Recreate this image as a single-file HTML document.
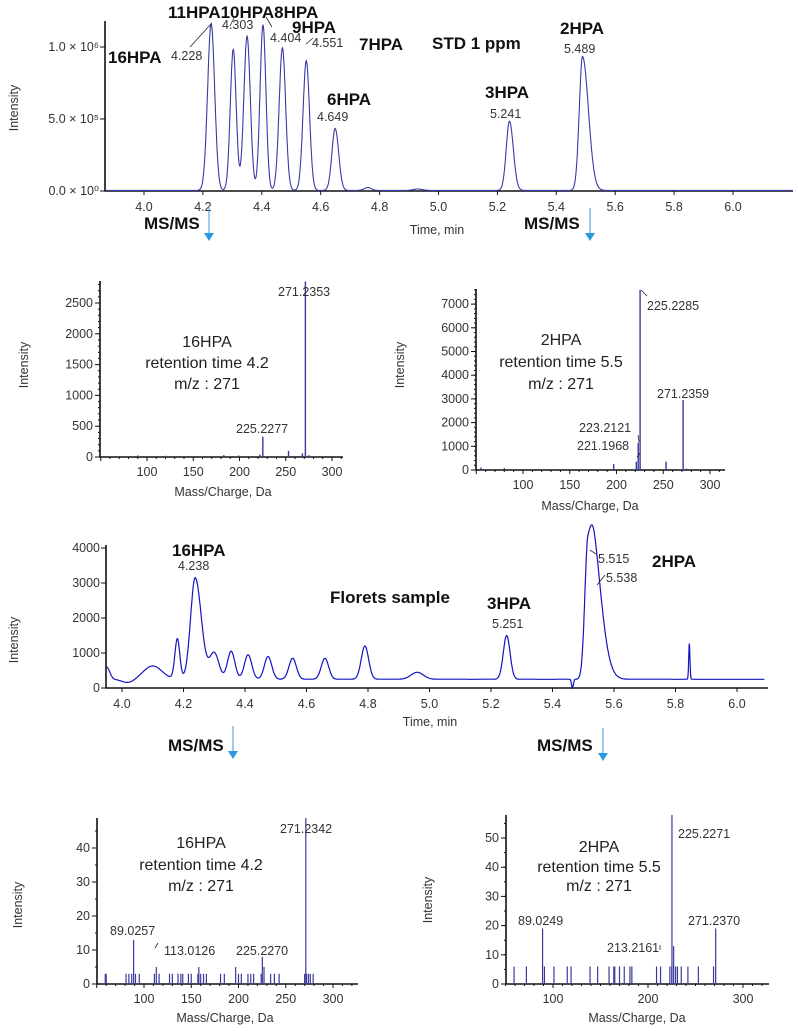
<!DOCTYPE html>
<html><head><meta charset="utf-8">
<style>
body{margin:0;background:#fff;}
svg{display:block;font-family:"Liberation Sans",sans-serif;}
.tk{font-size:12.5px;fill:#333;}
.bl{font-size:17px;font-weight:bold;fill:#111;}
.nm{font-size:12.5px;fill:#333;}
.cal{font-size:16px;fill:#222;}
.ax{stroke:#111;stroke-width:1.6;fill:none;}
</style></head><body>
<svg id="s" width="798" height="1031" viewBox="0 0 798 1031"></svg>
<script>
// ---- Chromatogram 1: STD 1 ppm ----
const stdTimes   = [4.228, 4.303, 4.350, 4.404, 4.470, 4.551, 4.649, 4.760, 4.930, 5.241, 5.489];
const stdHeights = [1.16e6, 0.98e6, 1.07e6, 1.15e6, 0.99e6, 0.90e6, 0.43e6, 0.02e6, 0.01e6, 0.48e6, 0.93e6];
const stdWidths  = [0.012, 0.010, 0.011, 0.010, 0.011, 0.011, 0.011, 0.012, 0.015, 0.011, 0.011];
const stdTails   = [0.012, 0.010, 0.011, 0.010, 0.011, 0.011, 0.012, 0.012, 0.015, 0.013, 0.020];
const stdYTicks  = ["0.0 × 10⁰", "5.0 × 10⁵", "1.0 × 10⁶"];
const stdYVals   = [0, 5e5, 1e6];
const timeTicks  = [4.0, 4.2, 4.4, 4.6, 4.8, 5.0, 5.2, 5.4, 5.6, 5.8, 6.0];
// ---- Chromatogram 2: Florets sample ----
const flBase     = 250;
const flTimes    = [3.95, 4.02, 4.10, 4.18, 4.238, 4.30, 4.355, 4.41, 4.475, 4.555, 4.66, 4.79, 4.96, 5.251, 5.465, 5.515, 5.538, 5.845];
const flHeights  = [350, -100, 380, 1150, 2900, 750, 800, 700, 650, 600, 600, 950, 200, 1250, -250, 3700, 1300, 1050];
const flWidths   = [0.01, 0.02, 0.03, 0.008, 0.015, 0.015, 0.012, 0.012, 0.012, 0.012, 0.012, 0.012, 0.02, 0.011, 0.003, 0.010, 0.015, 0.002];
const flTails    = [0.01, 0.02, 0.03, 0.008, 0.020, 0.015, 0.012, 0.012, 0.012, 0.012, 0.012, 0.012, 0.02, 0.011, 0.003, 0.030, 0.030, 0.002];
const flYVals    = [0, 1000, 2000, 3000, 4000];
// ---- Spectra ----
const sp1Mz  = [70, 90, 120, 155, 183, 199, 222, 225.2277, 253, 268, 271.2353, 275];
const sp1Int = [15, 25, 20, 15, 30, 25, 40, 330, 100, 60, 2850, 30];
const sp2Mz  = [55, 80, 197, 221.1968, 223.2121, 225.2285, 253, 271.2359, 275];
const sp2Int = [100, 80, 250, 350, 1150, 7600, 350, 2950, 60];
const sp3Mz  = [59,60,81,84,87,89.0257,91,95,111,113.0126,116,127,130,136,139,141,147,150,157,158,160,163,166,181,185,197,200,203,210,213,216,224,225.227,227,234,238,243,270,271.2342,272,274,276,279];
const sp3Int = [3,3,3,3,3,13,3,3,3,5,3,3,3,3,3,3,3,3,3,5,3,3,3,3,3,5,3,3,3,3,3,3,8,5,3,3,3,3,49,3,3,3,3];
const sp4Mz  = [59,72,89.0249,91,101,115,119,139,147,159,164,165,170,175,181,183,209,213.2161,223,225,225.2271,227,229,231,235,242,253,269,271.237];
const sp4Int = [6,6,19,6,6,6,6,6,6,6,6,6,6,6,6,6,6,6,6,6,58,13,6,6,6,6,6,6,19];

const NS="http://www.w3.org/2000/svg";
const S=document.getElementById('s');
function mk(tag,at,txt){const e=document.createElementNS(NS,tag);for(const k in at)e.setAttribute(k,at[k]);if(txt!==undefined)e.textContent=txt;S.appendChild(e);return e;}
function txt(x,y,s,cls,anchor,name){const e=mk('text',{x:x,y:y,class:cls,'text-anchor':anchor||'start'},s);

return e;}
function peakSum(t,times,hs,wl,wr){let v=0;for(let i=0;i<times.length;i++){const d=t-times[i];const w=d<0?wl[i]:wr[i];v+=hs[i]*Math.exp(-d*d/(2*w*w));}return v;}

function chrom(o){
  const X=t=>o.x0+(t-o.t0)*o.pxPerMin, Y=v=>o.yb-v*o.pxPerUnit;
  const ax=mk('path',{d:`M${o.axL},${o.yTop} V${o.yb} H${o.axR}`,class:'ax'});
  
  
  o.yVals.forEach((v,i)=>{mk('line',{x1:o.axL-5,x2:o.axL,y1:Y(v),y2:Y(v),stroke:'#111'});
    txt(o.axL-6,Y(v)+4,o.yLabels[i],'tk','end',o.name+'-y-tick-label');});
  timeTicks.forEach(t=>{if(X(t)>o.axR)return;mk('line',{x1:X(t),x2:X(t),y1:o.yb,y2:o.yb+4,stroke:'#111'});
    txt(X(t),o.yb+20,t.toFixed(1),'tk','middle',o.name+'-x-tick-label');});
  let d='';const step=0.0015;
  for(let t=o.tStart;t<=o.tEnd;t+=step){const v=o.base+peakSum(t,o.times,o.hs,o.wl,o.wr);d+=(d?'L':'M')+X(t).toFixed(1)+','+Y(v).toFixed(1);}
  const p=mk('path',{d:d,fill:'none',stroke:o.color,'stroke-width':o.sw});
  
  
  const yl=mk('text',{x:0,y:0,class:'tk',transform:`translate(${o.ylx},${o.yly}) rotate(-90)`,'text-anchor':'middle'},'Intensity');
  
  
  txt(o.xlx,o.xly,'Time, min','tk','middle',o.name+'-x-axis-title');
  return {X,Y};
}

function spectrum(o){
  const X=m=>o.x100+(m-100)*o.pxPerDa, Y=v=>o.yb-v*o.pxPerUnit;
  const ax=mk('path',{d:`M${o.axL},${o.yTop} V${o.yb} H${o.axR}`,class:'ax'});
  
  
  o.yVals.forEach(v=>{mk('line',{x1:o.axL-5,x2:o.axL,y1:Y(v),y2:Y(v),stroke:'#111'});
    txt(o.axL-7,Y(v)+4,String(v),'tk','end',o.name+'-y-tick-label');});
  for(let v=0;Y(v)>o.yTop;v+=o.yMinor)mk('line',{x1:o.axL-2,x2:o.axL,y1:Y(v),y2:Y(v),stroke:'#111'});
  for(let m=Math.ceil(o.mStart/10)*10;X(m)<=o.axR;m+=10){const major=m%o.xMajor===0;
    mk('line',{x1:X(m),x2:X(m),y1:o.yb,y2:o.yb+(major?4:2),stroke:'#111'});
    if(major&&m>=100)txt(X(m),o.yb+19,String(m),'tk','middle',o.name+'-x-tick-label');}
  o.mz.forEach((m,i)=>{const l=mk('line',{x1:X(m),x2:X(m),y1:o.yb,y2:Math.max(Y(o.int[i]),o.yTop),stroke:'#3a3a9a','stroke-width':o.bw});
    
    });
  const yl=mk('text',{x:0,y:0,class:'tk',transform:`translate(${o.ylx},${o.yly}) rotate(-90)`,'text-anchor':'middle'},'Intensity');
  
  
  txt(o.xlx,o.xly,'Mass/Charge, Da','tk','middle',o.name+'-x-axis-title');
  o.lines.forEach(L=>txt(o.cx,L[1],L[0],'cal','middle',o.name+'-annotation'));
}

chrom({name:'std-chrom',x0:144,t0:4.0,pxPerMin:294.5,yb:191,pxPerUnit:144/1e6,axL:105,axR:793,yTop:21,
 yVals:stdYVals,yLabels:stdYTicks,tStart:3.87,tEnd:6.2,base:4000,times:stdTimes,hs:stdHeights,wl:stdWidths,wr:stdTails,
 color:'#3a3aa8',sw:1.1,ylx:18,yly:108,xlx:437,xly:234});
chrom({name:'florets-chrom',x0:122,t0:4.0,pxPerMin:307.5,yb:688,pxPerUnit:35/1000,axL:106,axR:768,yTop:545,
 yVals:flYVals,yLabels:flYVals.map(String),tStart:3.95,tEnd:6.09,base:flBase,times:flTimes,hs:flHeights,wl:flWidths,wr:flTails,
 color:'#1414c0',sw:1.2,ylx:18,yly:640,xlx:430,xly:726});

spectrum({name:'ms-16hpa-std',x100:147,pxPerDa:0.925,yb:457,pxPerUnit:30.8/500,axL:100,axR:343,yTop:281,mStart:50,
 yVals:[0,500,1000,1500,2000,2500],yMinor:100,xMajor:50,mz:sp1Mz,int:sp1Int,bw:1.4,ylx:28,yly:365,xlx:223,xly:496,cx:207,
 lines:[['16HPA',347],['retention time 4.2',368],['m/z : 271',389]]});
spectrum({name:'ms-2hpa-std',x100:523,pxPerDa:0.935,yb:470,pxPerUnit:23.7/1000,axL:476,axR:725,yTop:289,mStart:50,
 yVals:[0,1000,2000,3000,4000,5000,6000,7000],yMinor:200,xMajor:50,mz:sp2Mz,int:sp2Int,bw:1.4,ylx:404,yly:365,xlx:590,xly:510,cx:561,
 lines:[['2HPA',345],['retention time 5.5',367],['m/z : 271',389]]});
spectrum({name:'ms-16hpa-florets',x100:144,pxPerDa:0.945,yb:984,pxPerUnit:3.4,axL:97,axR:358,yTop:818,mStart:50,
 yVals:[0,10,20,30,40],yMinor:5,xMajor:50,mz:sp3Mz,int:sp3Int,bw:1.2,ylx:22,yly:905,xlx:225,xly:1022,cx:201,
 lines:[['16HPA',848],['retention time 4.2',870],['m/z : 271',891]]});
spectrum({name:'ms-2hpa-florets',x100:553,pxPerDa:0.95,yb:984,pxPerUnit:2.92,axL:506,axR:769,yTop:815,mStart:50,
 yVals:[0,10,20,30,40,50],yMinor:5,xMajor:100,mz:sp4Mz,int:sp4Int,bw:1.2,ylx:432,yly:900,xlx:637,xly:1022,cx:599,
 lines:[['2HPA',852],['retention time 5.5',872],['m/z : 271',891]]});

const B=[['11HPA10HPA8HPA',168,18],['9HPA',292,33],['16HPA',108,63],['7HPA',359,50],['6HPA',327,105],['STD 1 ppm',432,49],
['3HPA',485,98],['2HPA',560,34],['16HPA',172,556],['Florets sample',330,603],['3HPA',487,609],['2HPA',652,567]];
B.forEach(b=>txt(b[1],b[2],b[0],'bl','start','peak-name-label'));
const N=[['4.228',171,60],['4.303',222,29],['4.404',270,42],['4.551',312,47],['4.649',317,121],['5.241',490,118],['5.489',564,53],
['4.238',178,570],['5.251',492,628],['5.515',598,563],['5.538',606,582],
['271.2353',278,296],['225.2277',236,433],['225.2285',647,310],['271.2359',657,398],['223.2121',579,432],['221.1968',577,450],
['271.2342',280,833],['89.0257',110,935],['113.0126',164,955],['225.2270',236,955],
['225.2271',678,838],['89.0249',518,925],['213.2161',607,952],['271.2370',688,925]];
N.forEach(n=>txt(n[1],n[2],n[0],'nm','start','peak-value-label'));
[[190,47,211,24],[234,18,230,26],[266,17,272,27],[313,38,306,44],[596,554,590,550],[605,575,597,585],[647,296,641,290],[639,442,638,435],[637,457,640,453],[158,943,155,948],[660,945,660,950]].forEach(l=>{
const e=mk('line',{x1:l[0],y1:l[1],x2:l[2],y2:l[3],stroke:'#222','stroke-width':0.8});

});
[[144,229,209,208],[524,229,590,208],[168,751,233,726],[537,751,603,728]].forEach(a=>{
txt(a[0],a[1],'MS/MS','bl','start','ms-ms-label');
const l=mk('line',{x1:a[2],y1:a[3],x2:a[2],y2:a[3]+26,stroke:'#3a9ad8','stroke-width':1});


const h=mk('path',{d:`M${a[2]-5},${a[3]+25} L${a[2]+5},${a[3]+25} L${a[2]},${a[3]+33}Z`,fill:'#2a9ae0'});

});
</script>
</body></html>
